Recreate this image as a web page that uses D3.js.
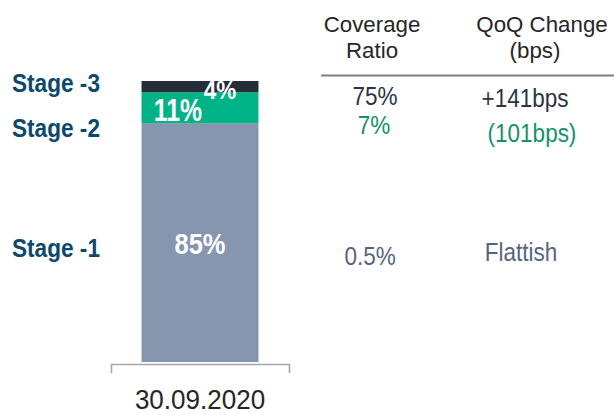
<!DOCTYPE html>
<html>
<head>
<meta charset="utf-8">
<script src="https://cdn.jsdelivr.net/npm/d3@7"></script>
<style>
  html, body { margin: 0; padding: 0; background: #ffffff; }
  svg { display: block; font-family: "Liberation Sans", Arial, sans-serif; }
</style>
</head>
<body>
<svg id="chart" width="614" height="415"></svg>
<script>
// ---- data ----
const categories = ["30.09.2020"];
const stages = ["Stage -1", "Stage -2", "Stage -3"];
const stageShares = [85, 11, 4];           // % of book, bottom to top
const shareLabels = ["85%", "11%", "4%"];
const tableHeaders = [["Coverage", "Ratio"], ["QoQ Change", "(bps)"]];
const coverageRatio = ["0.5%", "7%", "75%"];   // Stage -1, -2, -3
const qoqChange = ["Flattish", "(101bps)", "+141bps"];

// ---- styles ----
const segColors = ["#8596ae", "#00b386", "#252d39"];
const stageColor = "#0c4a6c";
const valueColors = ["#56657c", "#14916a", "#2b3440"];

const svg = d3.select("#chart");

const x = d3.scaleBand().domain(categories).range([111, 289]).padding(0.207);
const y = d3.scaleLinear().domain([0, 100]).range([362, 81]);

// stacked segments
const stacked = [];
let acc = 0;
stageShares.forEach((v, i) => { stacked.push({ i, y0: acc, y1: acc + v }); acc += v; });

svg.append("g").selectAll("rect").data(stacked).join("rect")
  .attr("x", x(categories[0]))
  .attr("width", x.bandwidth())
  .attr("y", d => y(d.y1))
  .attr("height", d => y(d.y0) - y(d.y1))
  .attr("fill", d => segColors[d.i]);

// axis bracket
const axis = svg.append("g").attr("transform", "translate(0,364)")
  .call(d3.axisBottom(x).tickSizeInner(0).tickSizeOuter(9).tickPadding(25));
axis.select(".domain").attr("stroke", "#a6a6a6").attr("stroke-width", 1.6);
axis.selectAll(".tick text")
  .attr("font-family", "'Liberation Sans', Arial, sans-serif")
  .attr("font-size", 28).attr("fill", "#262626")
  .attr("transform", "scale(0.93,1)");

// helper for text with horizontal squeeze
function label(g, txt, px, py, opts) {
  const t = g.append("g").attr("transform", `translate(${px},${py}) scale(${opts.sx || 1},1)`)
    .append("text")
    .attr("text-anchor", opts.anchor || "middle")
    .attr("font-size", opts.size)
    .attr("font-weight", opts.weight || "normal")
    .attr("fill", opts.color)
    .text(txt);
  return t;
}

// share labels inside bar
const barCx = x(categories[0]) + x.bandwidth() / 2;
const shareOffsets = [{dx: 0, dy: 11}, {dx: -22, dy: 13}, {dx: 20, dy: 12}];
const shareSizes = [30, 31, 25];
const shareSx = [0.85, 0.8, 0.9];
const gL = svg.append("g");
stacked.forEach((d, i) => {
  const cy = (y(d.y0) + y(d.y1)) / 2;
  label(gL, shareLabels[i], barCx + shareOffsets[i].dx, cy + shareOffsets[i].dy,
        { size: shareSizes[i], weight: "bold", color: "#ffffff", sx: shareSx[i] });
});

// stage labels on the left
const stageBaselines = [257, 137, 92];
stages.forEach((s, i) => {
  label(gL, s, 12, stageBaselines[i], { size: 26, weight: "bold", color: stageColor, sx: 0.87, anchor: "start" });
});

// table headers
const colCenters = [[372, 372], [542, 535]];
tableHeaders.forEach((lines, c) => {
  lines.forEach((ln, j) => {
    label(gL, ln, colCenters[c][j], 32 + j * 26, { size: 23, color: "#262626", sx: 0.97 });
  });
});
svg.append("line").attr("x1", 321).attr("x2", 614).attr("y1", 75.5).attr("y2", 75.5)
  .attr("stroke", "#7f7f7f").attr("stroke-width", 2);

// table values
const covPos = [[370, 265], [374, 134], [375, 105]];
const qoqPos = [[521, 261], [532, 142], [525, 107]];
coverageRatio.forEach((v, i) => {
  label(gL, v, covPos[i][0], covPos[i][1], { size: 25, color: valueColors[i], sx: 0.9 });
});
qoqChange.forEach((v, i) => {
  label(gL, v, qoqPos[i][0], qoqPos[i][1], { size: 25, color: valueColors[i], sx: 0.9 });
});
</script>
</body>
</html>
